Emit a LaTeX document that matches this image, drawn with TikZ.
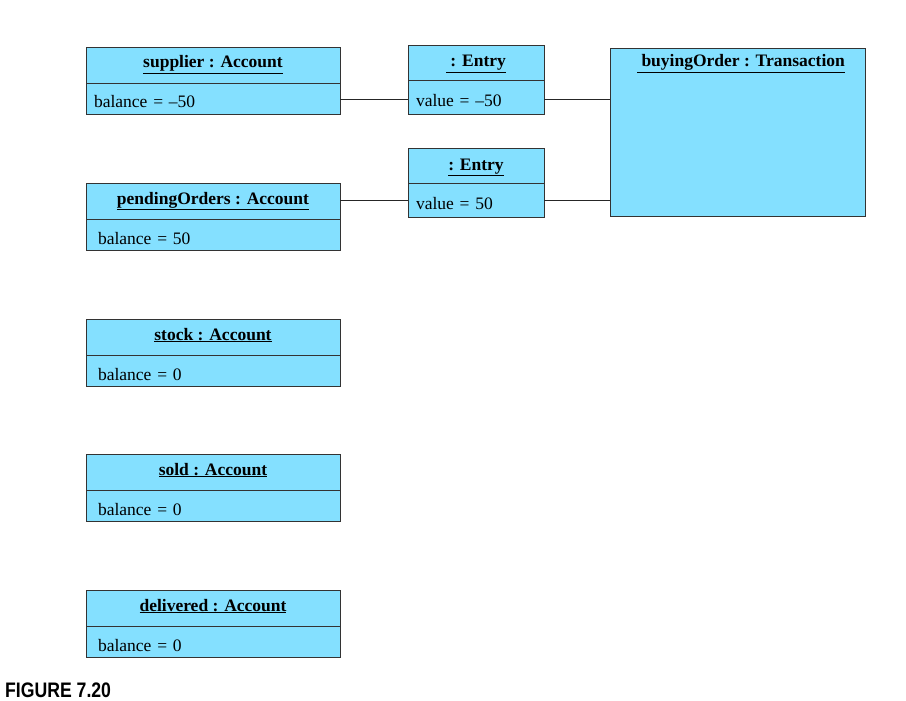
\documentclass[tikz,border=0pt]{standalone}
\usepackage{fontspec}
\setmainfont{Liberation Serif}
\newfontfamily\capfont{Liberation Sans}
\begin{document}
\begin{tikzpicture}[x=1pt,y=-1pt,
  objfill/.style={draw=black!80, fill=objblue, line width=0.9pt},
  ttl/.style={objfill, minimum width=254pt, inner sep=0pt, text height=11pt, text depth=5pt, font=\fontsize{17.5}{20}\selectfont\bfseries},
  attr/.style={objfill, minimum width=254pt, inner ysep=0pt, text height=20pt, text depth=1pt, text width=230pt, align=left, font=\fontsize{17.5}{20}\selectfont},
  ettl/.style={ttl, minimum width=136pt, minimum height=35pt, text height=12pt, text depth=3pt},
  eattr/.style={attr, minimum width=136pt, minimum height=34pt, text width=120pt, inner xsep=8pt, text height=20pt, text depth=1pt},
  link/.style={draw=black!85, line width=0.9pt}]
\definecolor{objblue}{RGB}{132,224,255}
\useasboundingbox (0,0) rectangle (906,701);
% Accounts
\node[ttl, minimum height=36pt] (supT) at (213,65) {\underline{supplier : Account}};
\node[attr, minimum height=31pt, inner xsep=8pt, text width=238pt] (supA) at (213,98.5) {balance = –50};
\node[ttl, minimum height=36pt] (penT) at (213,201) {\underline{pendingOrders : Account}};
\node[attr, minimum height=31pt, inner xsep=12pt] (penA) at (213,234.5) {balance = 50};
\node[ttl, minimum height=36pt] (stoT) at (213,337) {\underline{stock : Account}};
\node[attr, minimum height=31pt, inner xsep=12pt] (stoA) at (213,370.5) {balance = 0};
\node[ttl, minimum height=36pt] (solT) at (213,472) {\underline{sold : Account}};
\node[attr, minimum height=31pt, inner xsep=12pt] (solA) at (213,505.5) {balance = 0};
\node[ttl, minimum height=36pt] (delT) at (213,608) {\underline{delivered : Account}};
\node[attr, minimum height=31pt, inner xsep=12pt] (delA) at (213,641.5) {balance = 0};
% Entries
\node[ettl] (e1T) at (476,62.5) {\underline{\ : Entry}};
\node[eattr] (e1A) at (476,97) {value = –50};
\node[ettl] (e2T) at (476,165.5) {\underline{: Entry}};
\node[eattr] (e2A) at (476,200) {value = 50};
% Transaction
\node[objfill, minimum width=255pt, minimum height=168pt] (bo) at (737.5,132) {};
\node[anchor=base, inner sep=0pt, font=\fontsize{17.5}{20}\selectfont\bfseries] (boT) at (741,67) {\underline{\ buyingOrder : Transaction}};
% Links
\draw[link] (supA.east |- 0,99) -- (e1A.west |- 0,99);
\draw[link] (e1A.east |- 0,99) -- (bo.west |- 0,99);
\draw[link] (penT.east |- e2A.west) -- (e2A.west);
\draw[link] (e2A.east) -- (bo.west |- e2A.east);
% Caption
\node[anchor=west, inner sep=0pt, font=\capfont\bfseries\fontsize{21}{24}\selectfont, xscale=0.84] (cap) at (5,690) {FIGURE 7.20};
\end{tikzpicture}
\end{document}
